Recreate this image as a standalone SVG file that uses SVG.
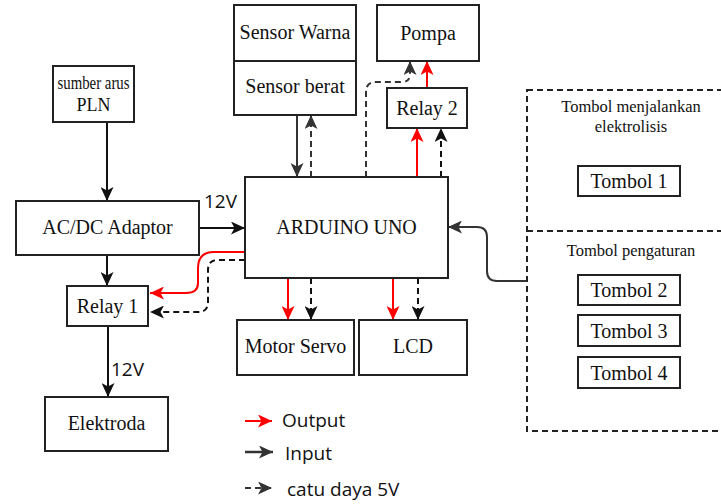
<svg xmlns="http://www.w3.org/2000/svg" width="721" height="504" viewBox="0 0 721 504">
<style>
.box{fill:#fff;stroke:#222;stroke-width:2}
.t{font-family:"Liberation Serif",serif;font-size:20px;fill:#111;text-anchor:middle}
.ts{font-family:"Liberation Serif",serif;font-size:16.5px;fill:#111;text-anchor:middle}
.lab{font-family:"Open Sans","Noto Sans",sans-serif;font-size:19px;fill:#111}
.k{fill:none;stroke:#111;stroke-width:2;marker-end:url(#mk)}
.g{fill:none;stroke:#333;stroke-width:2;marker-end:url(#mg)}
.r{fill:none;stroke:#f00;stroke-width:2;marker-end:url(#mr)}
.d{fill:none;stroke:#111;stroke-width:2;stroke-dasharray:6 4;marker-end:url(#mk)}
.dg{fill:none;stroke:#333;stroke-width:2;stroke-dasharray:6 4;marker-end:url(#mg)}
.panel{fill:none;stroke:#222;stroke-width:2;stroke-dasharray:6 4}
</style>
<defs>
<marker id="mk" viewBox="0 0 14 13" refX="14" refY="6.5" markerWidth="14" markerHeight="13" markerUnits="userSpaceOnUse" orient="auto"><path d="M0,0 L14,6.5 L0,13 L3.5,6.5 Z" fill="#111"/></marker>
<marker id="mg" viewBox="0 0 14 13" refX="14" refY="6.5" markerWidth="14" markerHeight="13" markerUnits="userSpaceOnUse" orient="auto"><path d="M0,0 L14,6.5 L0,13 L3.5,6.5 Z" fill="#333"/></marker>
<marker id="mr" viewBox="0 0 14 13" refX="14" refY="6.5" markerWidth="14" markerHeight="13" markerUnits="userSpaceOnUse" orient="auto"><path d="M0,0 L14,6.5 L0,13 L3.5,6.5 Z" fill="#f00"/></marker>
</defs>
<rect width="721" height="504" fill="#fff"/>

<g id="connectors">
<path class="k" d="M107,122 V201"/>
<path class="k" d="M199,228 H245"/>
<path class="k" d="M107,255 V286"/>
<path class="k" d="M108,326 V397"/>
<path class="r" d="M245,252 H214 Q198,252 198,268 V283 Q198,293 186,293 H150"/>
<path class="d" d="M245,260 H218 Q208,260 208,270 V302 Q208,312 198,312 H150"/>
<path class="g" d="M297,115 V177"/>
<path class="dg" d="M311,177 V115"/>
<path class="dg" d="M366,177 V92 Q366,82 376,82 H402 Q410,82 410,74 V61"/>
<path class="r" d="M417,177 V128"/>
<path class="d" d="M441,177 V128"/>
<path class="r" d="M427,88 V61"/>
<path class="r" d="M288,278 V320"/>
<path class="d" d="M311,278 V320"/>
<path class="r" d="M393,278 V320"/>
<path class="d" d="M418,278 V320"/>
<path class="g" d="M527,281 H497 Q487,281 487,271 V237 Q487,227 477,227 H448"/>
</g>

<g id="sumber"><rect class="box" x="53" y="66" width="81" height="56"/><text class="t" x="93.5" y="89" style="font-size:18px" textLength="72" lengthAdjust="spacingAndGlyphs">sumber arus</text><text class="t" x="93.5" y="111" style="font-size:18px">PLN</text></g>
<g id="adaptor"><rect class="box" x="16" y="201" width="183" height="54"/><text class="t" x="107.5" y="234">AC/DC Adaptor</text></g>
<g id="relay1"><rect class="box" x="67" y="286" width="81" height="40"/><text class="t" x="107.5" y="313">Relay 1</text></g>
<g id="elektroda"><rect class="box" x="45" y="397" width="123" height="54"/><text class="t" x="106.5" y="430">Elektroda</text></g>
<g id="arduino"><rect class="box" x="245" y="177" width="203" height="101"/><text class="t" x="346.5" y="234">ARDUINO UNO</text></g>
<g id="sensorwarna"><rect class="box" x="234" y="5" width="122" height="56"/><text class="t" x="295" y="39">Sensor Warna</text></g>
<g id="sensorberat"><rect class="box" x="234" y="61" width="122" height="54"/><text class="t" x="295" y="93">Sensor berat</text></g>
<g id="pompa"><rect class="box" x="377" y="5" width="102" height="56"/><text class="t" x="428" y="40">Pompa</text></g>
<g id="relay2"><rect class="box" x="387" y="88" width="80" height="40"/><text class="t" x="427" y="115">Relay 2</text></g>
<g id="servo"><rect class="box" x="237" y="320" width="117" height="55"/><text class="t" x="295.5" y="353">Motor Servo</text></g>
<g id="lcd"><rect class="box" x="359" y="320" width="108" height="55"/><text class="t" x="413" y="353">LCD</text></g>

<g id="panel">
<rect class="panel" x="527" y="90" width="210" height="341"/>
<path class="panel" d="M527,231 H721"/>
<text class="ts" x="631" y="112">Tombol menjalankan</text>
<text class="ts" x="631" y="132">elektrolisis</text>
<text class="ts" x="631" y="256">Tombol pengaturan</text>
</g>
<g id="tombol1"><rect class="box" x="578" y="166" width="102" height="30"/><text class="t" x="629" y="188">Tombol 1</text></g>
<g id="tombol2"><rect class="box" x="578" y="275" width="102" height="30"/><text class="t" x="629" y="297">Tombol 2</text></g>
<g id="tombol3"><rect class="box" x="578" y="315" width="102" height="31"/><text class="t" x="629" y="338">Tombol 3</text></g>
<g id="tombol4"><rect class="box" x="578" y="357" width="102" height="31"/><text class="t" x="629" y="380">Tombol 4</text></g>

<text class="lab" x="204" y="208">12V</text>
<text class="lab" x="111" y="376">12V</text>

<g id="legend">
<path class="r" d="M245,421 H272"/>
<text class="lab" x="282" y="427">Output</text>
<path class="g" d="M245,452 H273" style="stroke-width:2.5"/>
<text class="lab" x="285" y="460">Input</text>
<path class="dg" d="M245,488 H272"/>
<text class="lab" x="287" y="496">catu daya 5V</text>
</g>
</svg>
